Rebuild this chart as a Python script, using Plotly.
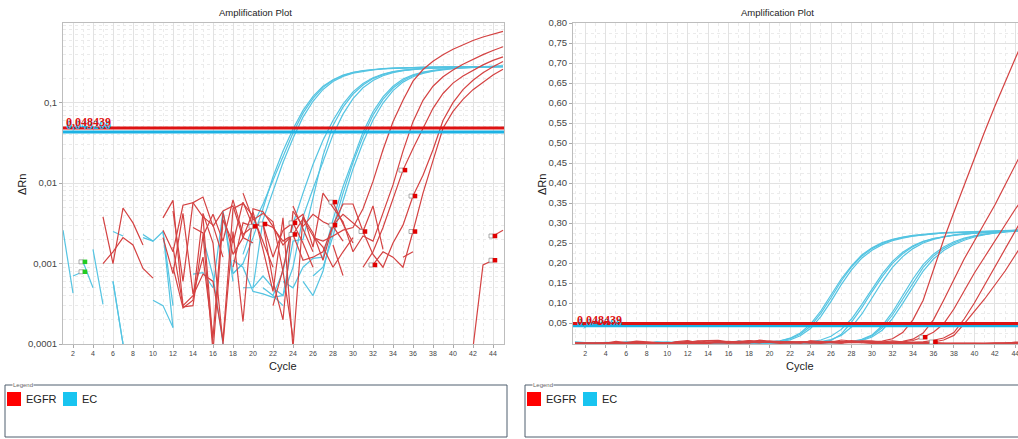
import plotly.graph_objects as go

W, H = 1018, 439
def px(x): return x / W
def py(y): return 1 - y / H

cycles = list(range(1, 46))

# ---- EC (internal control) wells, delta Rn per cycle ----
EC_1a = [0.0026, 0.00043, -0.0008, 0.0015, 0.00031, -0.0004, -0.0012, 0.0009, -0.0006, 0.0021,
         -0.0003, 0.0009, -0.0015, -0.0002, 0.0022, -0.0007, 0.0045, 0.00075, 0.0010, 0.0021,
         0.0048, 0.012, 0.025, 0.047, 0.080, 0.120, 0.160, 0.193, 0.220, 0.238,
         0.251, 0.259, 0.265, 0.269, 0.272, 0.274, 0.276, 0.277, 0.278, 0.279,
         0.280, 0.281, 0.281, 0.282, 0.283]
EC_1b = [-0.0005, -0.0009, 0.00105, 0.0005, -0.0003, 0.0025, 0.0022, -0.0010, 0.0023, 0.0019,
         0.0025, 0.0003, -0.0006, 0.00074, 0.00077, 0.0005, -0.0008, -0.0004, 0.0013, 0.0030,
         0.0055, 0.011, 0.022, 0.042, 0.074, 0.113, 0.155, 0.190, 0.217, 0.236,
         0.249, 0.258, 0.264, 0.268, 0.271, 0.273, 0.275, 0.276, 0.277, 0.278,
         0.279, 0.280, 0.280, 0.281, 0.282]
EC_1c = [0.0009, -0.0007, -0.0002, 0.0006, -0.0011, 0.0006, 0.0001, -0.0005, -0.0013, 0.00035,
         0.0003, 0.00016, -0.0004, -0.0009, 0.0021, 0.0007, 0.0001, -0.0006, 0.0005, 0.0005,
         0.0035, 0.008, 0.018, 0.036, 0.066, 0.104, 0.146, 0.183, 0.212, 0.232,
         0.246, 0.256, 0.262, 0.267, 0.270, 0.273, 0.275, 0.276, 0.277, 0.278,
         0.279, 0.279, 0.280, 0.281, 0.281]
EC_2a = [-0.0004, 0.0007, 0.00079, -0.0003, 0.0008, -0.0002, -0.0009, 0.0004, -0.0006, -0.0015,
         0.0024, -0.0002, 0.0003, -0.0007, -0.0011, 0.0009, -0.0003, -0.0005, 0.0004, -0.0002,
         0.0005, 0.0004, 0.0008, 0.0031, 0.0075, 0.017, 0.034, 0.060, 0.096, 0.136,
         0.173, 0.204, 0.227, 0.243, 0.254, 0.261, 0.266, 0.270, 0.273, 0.275,
         0.277, 0.278, 0.279, 0.280, 0.281]
EC_2b = [0.0011, -0.0009, 0.0004, -0.0013, -0.0005, 0.0024, -0.0007, -0.0002, 0.0023, -0.0008,
         -0.0004, 0.0009, -0.0012, 0.00074, -0.0003, -0.0009, 0.0001, -0.0006, -0.0011, 0.0005,
         0.0007, 0.0005, 0.0004, 0.0019, 0.0020, 0.0065, 0.022, 0.052, 0.088, 0.128,
         0.166, 0.199, 0.223, 0.241, 0.253, 0.261, 0.266, 0.270, 0.273, 0.275,
         0.277, 0.278, 0.279, 0.280, 0.281]
EC_2c = [-0.0007, -0.0002, -0.0011, 0.0005, -0.0006, -0.0013, 0.0016, -0.0004, -0.0008, 0.00035,
         -0.0010, -0.0003, -0.0007, -0.0012, 0.0016, -0.0005, -0.0002, 0.0011, 0.0009, 0.00045,
         0.00042, 0.00038, 0.0004, 0.0009, 0.0038, 0.0085, 0.019, 0.040, 0.072, 0.112,
         0.153, 0.189, 0.216, 0.236, 0.250, 0.259, 0.265, 0.269, 0.272, 0.275,
         0.277, 0.278, 0.279, 0.280, 0.281]
EC_3a = [-0.0010, -0.0005, 0.0003, -0.0009, -0.0014, 0.0006, 0.0001, -0.0007, -0.0003, -0.0011,
         -0.0006, -0.0013, -0.0004, -0.0002, -0.0009, 0.0005, 0.0045, 0.0006, -0.0005, -0.0012,
         -0.0003, -0.0008, 0.0006, 0.0005, 0.0009, 0.00116, 0.0012, 0.0035, 0.009, 0.020,
         0.043, 0.077, 0.118, 0.160, 0.196, 0.222, 0.240, 0.253, 0.262, 0.268,
         0.272, 0.275, 0.278, 0.280, 0.282]
EC_3b = [-0.0003, -0.0012, -0.0006, -0.0002, -0.0010, -0.0004, -0.0008, -0.0013, 0.0021, 0.0019,
         -0.0005, -0.0009, -0.0003, -0.0011, -0.0007, -0.0002, 0.0001, -0.0009, -0.0004, -0.0006,
         -0.0010, 0.0004, 0.0003, -0.0005, 0.0006, 0.0004, 0.0008, 0.0028, 0.0075, 0.018,
         0.038, 0.070, 0.110, 0.152, 0.189, 0.217, 0.236, 0.250, 0.260, 0.267,
         0.272, 0.276, 0.279, 0.282, 0.284]
EC_3c = [-0.0008, -0.0004, -0.0011, -0.0007, -0.0003, -0.0009, -0.0014, -0.0005, -0.0002, -0.0010,
         0.0025, 0.00016, -0.0006, -0.0012, -0.0004, -0.0008, -0.0003, 0.00075, 0.0010, -0.0007,
         -0.0002, -0.0009, -0.0004, 0.0005, -0.0003, 0.0007, 0.0009, 0.0022, 0.006, 0.015,
         0.032, 0.061, 0.099, 0.141, 0.180, 0.210, 0.231, 0.246, 0.257, 0.265,
         0.271, 0.275, 0.279, 0.282, 0.285]

# ---- EGFR wells ----
EGFR_1 = [-0.0010, -0.0005, -0.0012, -0.0004, 0.0038, 0.0010, 0.0049, 0.0032, 0.0017, -0.0006,
          0.0037, 0.0061, 0.00029, -0.0008, 0.0038, 0.0030, 0.0012, -0.0005, 0.0075, 0.0035,
          0.0042, 0.0033, 0.0008, 0.00012, -0.0009, 0.0021, 0.0019, 0.0022, 0.0026, 0.0028,
          0.0048, 0.0105, 0.026, 0.058, 0.107, 0.185, 0.258, 0.327, 0.395, 0.462,
          0.528, 0.592, 0.654, 0.712, 0.770]
EGFR_2 = [-0.0008, -0.0014, -0.0003, -0.0009, 0.0010, 0.0014, 0.0021, 0.0017, 0.00087, 0.00066,
          -0.0004, 0.0045, 0.0006, 0.0057, 0.0067, 0.0029, 0.0045, 0.0052, 0.0021, 0.0018,
          -0.0007, 0.0003, 0.00085, 0.0033, 0.0041, 0.0016, 0.0075, 0.0050, 0.0033, 0.0014,
          0.0022, 0.0019, 0.0043, 0.0095, 0.025, 0.058, 0.107, 0.160, 0.210, 0.255,
          0.300, 0.345, 0.395, 0.445, 0.495]
EGFR_3 = [-0.0006, -0.0011, -0.0015, -0.0002, -0.0007, -0.0003, -0.0009, -0.0012, -0.0004, -0.0008,
          0.0026, 0.0014, 0.0053, 0.0057, 0.0038, 0.0001, -0.0004, 0.0009, 0.0032, 0.0029,
          0.0031, 0.0012, 0.0026, 0.0032, 0.0018, 0.0009, -0.0006, 0.0017, 0.00071, -0.0003,
          0.0009, 0.0014, 0.0028, 0.0062, 0.0145, 0.027, 0.048, 0.085, 0.130, 0.175,
          0.215, 0.255, 0.295, 0.335, 0.370]
EGFR_4 = [-0.0012, -0.0007, -0.0002, -0.0013, -0.0005, -0.0009, -0.0003, -0.0011, -0.0006, -0.0002,
          -0.0009, 0.0009, 0.00028, 0.00035, 0.0042, 0.0018, 0.0001, 0.0025, 0.00019, 0.0048,
          0.0044, 0.0029, 0.0017, 0.0023, 0.0011, 0.0012, 0.0014, 0.0030, 0.0055, 0.0055,
          0.0025, 0.0013, 0.0009, 0.0018, 0.0030, 0.0069, 0.0125, 0.026, 0.060, 0.100,
          0.145, 0.190, 0.235, 0.280, 0.325]
EGFR_5 = [-0.0004, -0.0010, -0.0008, -0.0015, -0.0002, -0.0011, -0.0006, -0.0004, -0.0013, -0.0007,
          -0.0005, -0.0003, 0.00029, 0.0003, 0.0022, 0.0041, 0.0019, 0.0062, 0.0023, 0.0029,
          0.0032, 0.0028, 0.0019, 0.0023, 0.0036, 0.0022, 0.0016, 0.0009, 0.0014, 0.0021,
          -0.0004, 0.00096, 0.0014, 0.0012, 0.0009, 0.0025, 0.0075, 0.019, 0.048, 0.078,
          0.110, 0.145, 0.180, 0.220, 0.260]
EGFR_N1 = [-0.0009, -0.0003, -0.0011, -0.0006, -0.0014, -0.0002, -0.0008, -0.0005, -0.0010, -0.0003,
           -0.0007, 0.0016, 0.0003, 0.0004, 0.00074, 0.0006, 0.00011, 0.0048, 0.0056, 0.0039,
           0.0019, 0.0009, -0.0005, 0.0052, 0.0027, 0.0014, -0.0003, 0.0058, 0.0031, 0.0018,
           -0.0006, -0.0011, -0.0004, -0.0009, -0.0002, -0.0007, -0.0012, -0.0005, -0.0009, -0.0003,
           -0.0008, 0.00009, 0.00096, 0.0011, -0.0004]
EGFR_N2 = [-0.0005, -0.0012, -0.0008, -0.0002, -0.0011, -0.0006, -0.0013, -0.0004, -0.0009, -0.0012,
           0.0021, 0.00075, 0.0042, 0.00042, 0.0012, 0.00012, 0.0043, 0.0013, 0.0021, 0.0044,
           0.0015, 0.00045, 0.0037, 0.00009, 0.0038, 0.0024, 0.0011, 0.0030, 0.0041, 0.0032,
           0.0025, 0.0052, 0.0015, -0.0005, 0.0012, 0.0014, -0.0008, -0.0003, -0.0010, -0.0006,
           -0.0012, -0.0004, -0.0009, 0.0022, 0.0026]
EGFR_N3 = [-0.0007, -0.0002, -0.0012, -0.0009, -0.0004, -0.0014, -0.0006, -0.0003, -0.0011, -0.0005,
           -0.0008, -0.0002, -0.0013, 0.0028, 0.0024, 0.00008, 0.0035, 0.0018, 0.0058, 0.0029,
           0.0031, 0.0006, 0.0002, 0.0045, 0.0029, 0.0041, 0.0033, 0.0029, 0.0019, -0.0007,
           -0.0002, -0.0011, -0.0006, -0.0013, -0.0004, -0.0009, -0.0003, -0.0012, -0.0007, -0.0002,
           -0.0010, -0.0005, -0.0008, -0.0003, -0.0011]

ec_wells = {"EC_1a": EC_1a, "EC_1b": EC_1b, "EC_1c": EC_1c, "EC_2a": EC_2a, "EC_2b": EC_2b,
            "EC_2c": EC_2c, "EC_3a": EC_3a, "EC_3b": EC_3b, "EC_3c": EC_3c}
egfr_wells = {"EGFR_1": EGFR_1, "EGFR_2": EGFR_2, "EGFR_3": EGFR_3, "EGFR_4": EGFR_4,
              "EGFR_5": EGFR_5, "EGFR_N1": EGFR_N1, "EGFR_N2": EGFR_N2, "EGFR_N3": EGFR_N3}
for k, v in {**ec_wells, **egfr_wells}.items():
    assert len(v) == 45, (k, len(v))

THRESH_EGFR = 0.048439
THRESH_EC = 0.0432
THRESH_EGFR_LABEL = "0,048439"
THRESH_EC_LABEL = "0,043200"

# flagged points (well, cycle)
egfr_flags = [("EGFR_3", 20), ("EGFR_N3", 21), ("EGFR_3", 24), ("EGFR_4", 24), ("EGFR_N1", 28),
              ("EGFR_4", 28), ("EGFR_4", 31), ("EGFR_5", 32), ("EGFR_3", 35), ("EGFR_4", 36),
              ("EGFR_5", 36), ("EGFR_N2", 44), ("EGFR_N1", 44)]
egfr_flags_linear = [("EGFR_3", 35), ("EGFR_5", 36)]
ec_flags = [("EC_1b", 3), ("EC_2a", 3)]

log_ticks = [0.0001, 0.001, 0.01, 0.1]
log_ticktext = ["0,0001", "0,001", "0,01", "0,1"]
lin_ticks = [0.05, 0.10, 0.15, 0.20, 0.25, 0.30, 0.35, 0.40, 0.45, 0.50, 0.55, 0.60, 0.65, 0.70, 0.75, 0.80]
lin_ticktext = ["0,05", "0,10", "0,15", "0,20", "0,25", "0,30", "0,35", "0,40", "0,45", "0,50",
                "0,55", "0,60", "0,65", "0,70", "0,75", "0,80"]
x_ticks = list(range(2, 46, 2))

X1_RANGE = [1, 45.1]
X2_RANGE = [0.805, 44.26]

EC_COLOR = "rgb(84,196,226)"
EGFR_COLOR = "rgb(212,66,66)"
EC_THR_COLOR = "rgb(28,178,228)"
EGFR_THR_COLOR = "rgb(222,18,18)"

def pos(v):
    return [y if y > 0 else None for y in v]

fig = go.Figure()
common = dict(mode="lines", showlegend=False, hoverinfo="skip")
for name, v in ec_wells.items():
    fig.add_trace(go.Scatter(x=cycles, y=pos(v), line=dict(color=EC_COLOR, width=1.2), xaxis="x", yaxis="y", **common))
    fig.add_trace(go.Scatter(x=cycles, y=v, line=dict(color=EC_COLOR, width=1.2), xaxis="x2", yaxis="y2", **common))
for name, v in egfr_wells.items():
    fig.add_trace(go.Scatter(x=cycles, y=pos(v), line=dict(color=EGFR_COLOR, width=1.2), xaxis="x", yaxis="y", **common))
    fig.add_trace(go.Scatter(x=cycles, y=v, line=dict(color=EGFR_COLOR, width=1.2), xaxis="x2", yaxis="y2", **common))

# thresholds
for xr, xa, ya in [(X1_RANGE, "x", "y"), (X2_RANGE, "x2", "y2")]:
    fig.add_trace(go.Scatter(x=xr, y=[THRESH_EC] * 2, line=dict(color=EC_THR_COLOR, width=3), xaxis=xa, yaxis=ya, **common))
    fig.add_trace(go.Scatter(x=xr, y=[THRESH_EGFR] * 2, line=dict(color=EGFR_THR_COLOR, width=3), xaxis=xa, yaxis=ya, **common))

# flags
all_wells = {**ec_wells, **egfr_wells}
def flag_traces(flags, color, xa, ya):
    fx = [c for _, c in flags]
    fy = [all_wells[w][c - 1] for w, c in flags]
    fig.add_trace(go.Scatter(x=[c - 0.2 for c in fx], y=fy, mode="markers", showlegend=False, hoverinfo="skip",
                             marker=dict(symbol="square", size=4, color="white", line=dict(color="#888", width=0.7)),
                             xaxis=xa, yaxis=ya))
    fig.add_trace(go.Scatter(x=[c + 0.2 for c in fx], y=fy, mode="markers", showlegend=False, hoverinfo="skip",
                             marker=dict(symbol="square", size=4.5, color=color, line=dict(width=0)),
                             xaxis=xa, yaxis=ya))
flag_traces(egfr_flags, "#e00000", "x", "y")
flag_traces(ec_flags, "#22cc22", "x", "y")
flag_traces(egfr_flags_linear, "#e00000", "x2", "y2")

GRID = "#e2e2e2"
MINOR = "#ebebeb"
FONT = "Liberation Sans, Arial, sans-serif"
ydom = [py(344), py(23)]

xcommon = dict(tickvals=x_ticks, ticks="outside", ticklen=3, tickcolor="#aaa",
               tickfont=dict(size=7, color="#444", family=FONT),
               showgrid=True, gridcolor=GRID, gridwidth=1, zeroline=False,
               showline=True, linecolor="#bdbdbd", linewidth=1, mirror=True,
               minor=dict(tickvals=cycles, showgrid=True, gridcolor=MINOR, griddash="dot", ticks=""),
               automargin=False, fixedrange=True, ticklabeloverflow="allow")

minor_log = [m * 10 ** e for e in range(-4, 0) for m in range(2, 10)]

fig.update_layout(
    width=W, height=H, margin=dict(l=0, r=0, t=0, b=0),
    paper_bgcolor="white", plot_bgcolor="white",
    font=dict(family=FONT, color="#333"),
    xaxis=dict(domain=[px(63), px(504)], range=X1_RANGE, anchor="y", **xcommon),
    yaxis=dict(domain=ydom, type="log", range=[-4, -0.01], anchor="x",
               tickvals=log_ticks, ticktext=log_ticktext, ticks="outside", ticklen=3, tickcolor="#aaa",
               tickfont=dict(size=9.5, color="#444", family=FONT),
               showgrid=True, gridcolor=GRID, zeroline=False,
               showline=True, linecolor="#bdbdbd", mirror=True,
               minor=dict(tickvals=minor_log, showgrid=True, gridcolor=MINOR, griddash="dot", ticks=""),
               automargin=False),
    xaxis2=dict(domain=[px(573), 1.0], range=X2_RANGE, anchor="y2", **xcommon),
    yaxis2=dict(domain=ydom, range=[-0.0025, 0.8], anchor="x2",
                tickvals=lin_ticks, ticktext=lin_ticktext, ticks="outside", ticklen=3, tickcolor="#aaa",
                tickfont=dict(size=9.5, color="#444", family=FONT),
                showgrid=True, gridcolor=GRID, zeroline=False,
                showline=True, linecolor="#bdbdbd", mirror=False,
                minor=dict(dtick=0.025, tick0=0, showgrid=True, gridcolor=MINOR, griddash="dot", ticks=""),
                automargin=False),
)

shapes = []
annotations = []

def rect(x0, y0, x1, y1, fill="rgba(0,0,0,0)", line=None):
    shapes.append(dict(type="rect", xref="paper", yref="paper", x0=px(x0), x1=px(x1), y0=py(y1), y1=py(y0),
                       fillcolor=fill, line=line or dict(width=0), layer="above"))

def text(x, y, s, size, color="#222", xanchor="center", angle=0, family=FONT, bg=None):
    a = dict(x=px(x), y=py(y), xref="paper", yref="paper", text=s, showarrow=False,
             font=dict(size=size, color=color, family=family), xanchor=xanchor, yanchor="middle",
             textangle=angle)
    if bg:
        a["bgcolor"] = bg
        a["borderpad"] = 0
    annotations.append(a)

# titles / axis titles
text(256, 13, "Amplification Plot", 9.5)
text(777, 13, "Amplification Plot", 9.5)
text(22, 185, "ΔRn", 11, angle=-90)
text(542, 185, "ΔRn", 11, angle=-90)
text(283, 366, "Cycle", 11)
text(800, 366, "Cycle", 11)

# threshold labels (EC label sits just under the EGFR label, as in the instrument export)
SERIF = "Liberation Serif, serif"
text(64, 125, "<b>" + THRESH_EC_LABEL + "</b>", 12, color=EC_THR_COLOR, xanchor="left", family=SERIF)
text(64, 122, "<b>" + THRESH_EGFR_LABEL + "</b>", 12, color=EGFR_THR_COLOR, xanchor="left", family=SERIF)
text(575, 323, "<b>" + THRESH_EC_LABEL + "</b>", 12, color=EC_THR_COLOR, xanchor="left", family=SERIF)
text(575, 320, "<b>" + THRESH_EGFR_LABEL + "</b>", 12, color=EGFR_THR_COLOR, xanchor="left", family=SERIF)

# legends
legend_items = [("EGFR", "#ff0000"), ("EC", "#18c4f0")]
for bx0, bx1 in [(5, 507), (525, 1030)]:
    rect(bx0, 385, bx1, 437, line=dict(color="#4f5f6f", width=1))
    text(bx0 + 7, 385, "Legend", 6, color="#666", xanchor="left", bg="white")
    sx = bx0 + 2
    for label, col in legend_items:
        rect(sx, 392, sx + 14, 406, fill=col)
        text(sx + 17, 399, label, 11, color="#222", xanchor="left")
        sx += 56 if label == "EGFR" else 40

fig.update_layout(shapes=shapes, annotations=annotations)
fig.write_html("out.html")
